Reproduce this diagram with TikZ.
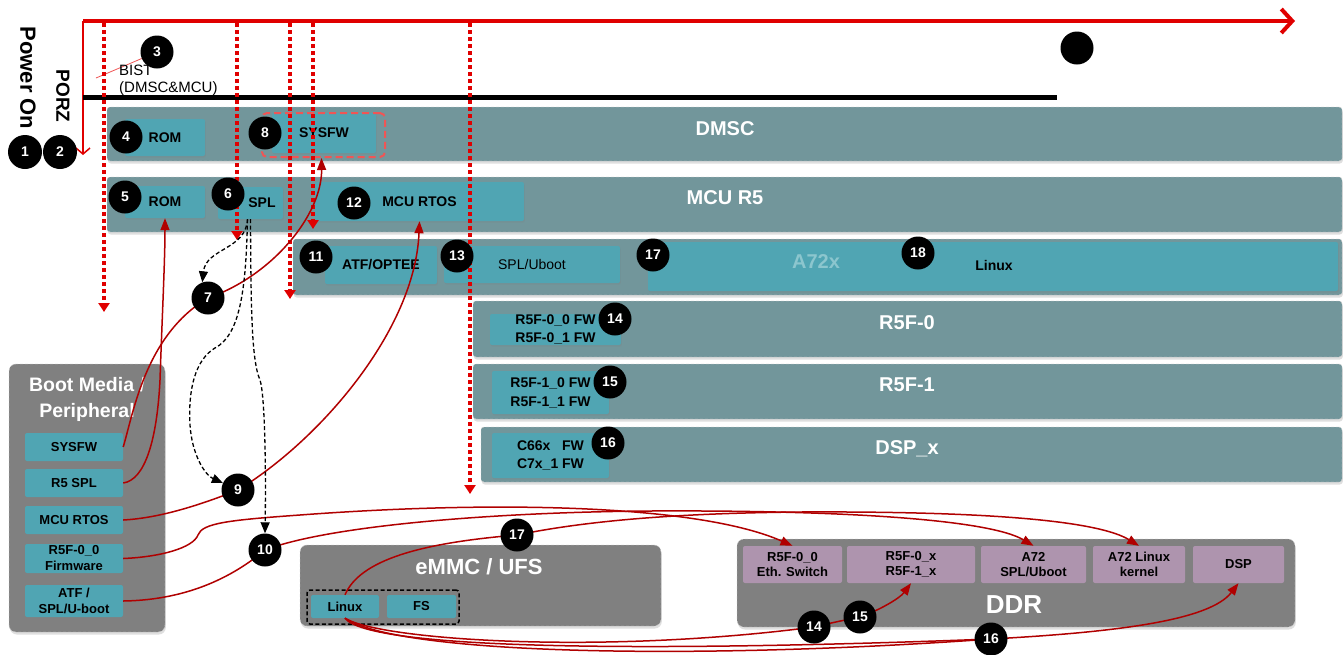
\documentclass[tikz,border=0pt]{standalone}
\usepackage{fontspec}
\setmainfont{Liberation Sans}
\usetikzlibrary{arrows.meta,fit,shadows}
\definecolor{panelc}{RGB}{114,150,155}
\definecolor{tealc}{RGB}{80,165,179}
\definecolor{greyc}{RGB}{128,128,128}
\definecolor{pinkc}{RGB}{174,148,174}
\definecolor{tred}{RGB}{224,0,0}
\definecolor{dred}{RGB}{176,0,0}
\definecolor{a72c}{RGB}{140,198,206}
\definecolor{sysred}{RGB}{240,85,85}
\pgfdeclarelayer{back}
\pgfdeclarelayer{mid}
\pgfsetlayers{back,mid,main}
\begin{document}
\begin{tikzpicture}[x=1pt,y=-1pt,
  panel/.style={fill=panelc, draw=gray!40, densely dashed, line width=0.4pt, rounded corners=3pt, inner sep=0pt,
    drop shadow={shadow xshift=0.8pt, shadow yshift=-2.5pt, opacity=0.25}},
  gpanel/.style={panel, fill=greyc, rounded corners=7pt},
  ibox/.style={fill=tealc, rounded corners=2pt, inner sep=0pt, align=center, font=\bfseries\fontsize{14}{17}\selectfont,
    drop shadow={shadow xshift=0.8pt, shadow yshift=-1.5pt, opacity=0.25}},
  sbox/.style={ibox, font=\bfseries\fontsize{13}{16}\selectfont},
  pbox/.style={sbox, fill=pinkc, font=\bfseries\fontsize{13}{15}\selectfont},
  sz/.style 2 args={minimum width=#1, minimum height=#2},
  plabel/.style={text=white, font=\bfseries\fontsize{20}{24}\selectfont, inner sep=1pt},
  num/.style={circle, fill=black, text=white, font=\bfseries\fontsize{14}{14}\selectfont, minimum size=33pt, inner sep=0pt},
  tdot/.style={tred, line width=3.5pt, dash pattern=on 3.5pt off 3.5pt, -{Triangle[length=9pt,width=11pt]}},
  conn/.style={dred, line width=1.5pt, -{Triangle[length=12pt,width=9pt]}},
  wire/.style={dred, line width=1.5pt},
  dconn/.style={black, line width=1.3pt, dash pattern=on 4pt off 2.5pt, -{Triangle[length=11pt,width=9pt]}}
]
\useasboundingbox (0,0) rectangle (1344,654);

\begin{pgfonlayer}{back}
\fill[white] (0,0) rectangle (1344,654);
% timeline
\coordinate (t0) at (83,21);
\coordinate (t1) at (1295,21);
\coordinate (tv) at (83,155);
\draw[tred, line width=4pt, -{Straight Barb[length=11pt,width=24pt]}] (t0) -- (t1);
\draw[tred, line width=1.5pt, -{Straight Barb[length=6pt,width=14pt]}] (t0) -- (tv);
\coordinate (p0) at (83,97.5);
\coordinate (p1) at (1057,97.5);
\draw[black, line width=5pt] (p0) -- (p1);

% panels
\node[panel, fit={(107,107) (1342,161)}] (dmsc) {};
\node[panel, fit={(107,177) (1342,232)}] (mcur5) {};
\node[panel, fit={(293,239) (1342,295)}] (a72p) {};
\node[panel, fit={(473,301) (1342,357)}] (r5f0p) {};
\node[panel, fit={(473,364) (1342,419)}] (r5f1p) {};
\node[panel, fit={(481,427) (1342,482)}] (dspp) {};
\node[gpanel, fit={(9,364) (165,632)}] (boot) {};
\node[gpanel, fit={(300,545) (661,626)}] (emmc) {};
\node[gpanel, fit={(737,539) (1295,627)}] (ddr) {};

% DMSC boxes
\node[ibox, sz={80pt}{37pt}] (drom) at (165,137.5) {ROM};
\node[ibox, sz={104pt}{40pt}] (sysfw) at (324,133) {SYSFW};
\node[draw=sysred, dash pattern=on 7pt off 4pt, line width=2pt, rounded corners=5pt, inner sep=0pt, fit={(262,113) (385,157)}] (sysfwd) {};
% MCU R5 boxes
\node[ibox, sz={80pt}{32pt}] (mrom) at (165,202) {ROM};
\node[ibox, sz={65pt}{32pt}] (spl) at (250.5,203) {};
\node[font=\bfseries\fontsize{14}{17}\selectfont] (spltxt) at (262,203) {SPL};
\node[ibox, sz={209pt}{39pt}] (mrtos) at (419.5,201.5) {MCU RTOS};
% A72 boxes
\node[ibox, sz={112pt}{38pt}] (atf) at (381,265) {ATF/OPTEE};
\node[ibox, sz={176pt}{37pt}, font=\fontsize{14}{17}\selectfont] (aspl) at (532,264.5) {SPL/Uboot};
\node[ibox, fit={(648,242) (1338,291)}] (linuxa) {};
\node[text=a72c, font=\bfseries\fontsize{20}{24}\selectfont] (a72lbl) at (816,262) {A72x};
\node[font=\bfseries\fontsize{14}{17}\selectfont] (linlbl) at (994,265) {Linux};
% R5F / DSP boxes
\node[ibox, sz={131pt}{31pt}, font=\bfseries\fontsize{14}{18}\selectfont] (r50fw) at (555.5,329.5) {R5F-0\_0 FW\\R5F-0\_1 FW};
\node[ibox, sz={117pt}{43pt}, font=\bfseries\fontsize{14}{19}\selectfont] (r51fw) at (550.5,392.5) {R5F-1\_0 FW\\R5F-1\_1 FW};
\node[ibox, sz={117pt}{45pt}, font=\bfseries\fontsize{14}{18}\selectfont] (dspfw) at (550.5,455.5) {C66x\hspace{0.834em}FW\\C7x\_1 FW};

% panel labels
\node[plabel] (dmsclbl) at (725,129) {DMSC};
\node[plabel] (mculbl) at (725,198) {MCU R5};
\node[plabel] (r50lbl) at (907,323) {R5F-0};
\node[plabel] (r51lbl) at (907,385) {R5F-1};
\node[plabel] (dsplbl) at (907,449) {DSP\_x};

% Boot media
\node[plabel, align=center, font=\bfseries\fontsize{19.5}{26}\selectfont] (bootlbl) at (87,399) {Boot Media /\\Peripheral};
\node[sbox, sz={98pt}{28pt}] (bsysfw) at (74,447) {SYSFW};
\node[sbox, sz={98pt}{28pt}] (bspl) at (74,483) {R5 SPL};
\node[sbox, sz={98pt}{28pt}] (brtos) at (74,520) {MCU RTOS};
\node[sbox, sz={98pt}{29pt}] (bfw) at (74,558.5) {R5F-0\_0\\Firmware};
\node[sbox, sz={98pt}{32pt}] (batf) at (74,601) {ATF /\\SPL/U-boot};

% eMMC
\node[plabel, font=\bfseries\fontsize{22}{26}\selectfont] (emmclbl) at (479,567) {eMMC / UFS};
\node[sbox, sz={68pt}{23pt}] (linux) at (345,606.5) {Linux};
\node[sbox, sz={69pt}{23pt}] (fs) at (421.5,606.5) {FS};
\node[draw=black, dash pattern=on 4pt off 2.5pt, line width=1.5pt, rounded corners=3pt, inner sep=0pt, fit={(307,590) (459,624)}] (emmcd) {};

% DDR
\node[plabel, font=\bfseries\fontsize{26}{30}\selectfont] (ddrlbl) at (1014,605) {DDR};
\node[pbox, sz={99pt}{37pt}] (eth) at (792.5,564.5) {R5F-0\_0\\Eth. Switch};
\node[pbox, sz={128pt}{37pt}] (r5fx) at (911,564.5) {R5F-0\_x\\R5F-1\_x};
\node[pbox, sz={105pt}{37pt}] (a72spl) at (1033.5,564.5) {A72\\SPL/Uboot};
\node[pbox, sz={92pt}{37pt}] (a72lin) at (1139,564.5) {A72 Linux\\kernel};
\node[pbox, sz={91pt}{37pt}] (dsp) at (1238.5,564.5) {DSP};
\end{pgfonlayer}

% texts
\node[rotate=-90, font=\bfseries\fontsize{22}{22}\selectfont] (pon) at (28,78) {Power On};
\node[rotate=-90, font=\bfseries\fontsize{19}{19}\selectfont] (porz) at (63,96) {PORZ};
\node[anchor=west, align=left, inner sep=0pt, font=\fontsize{15}{17}\selectfont] (bist) at (119,80) {BIST\\(DMSC\&MCU)};

% numbered circles
\node[num, minimum size=34pt] (n1) at (25,152) {1};
\node[num, minimum size=34pt] (n2) at (60,152) {2};
\node[num] (n3) at (157,52) {3};
\node[num] (n4) at (126,137) {4};
\node[num] (n5) at (125,197) {5};
\node[num] (n6) at (228,194) {6};
\node[num] (n7) at (208,298) {7};
\node[num] (n8) at (265,133) {8};
\node[num] (n9) at (238,490) {9};
\node[num] (n10) at (265,550) {10};
\node[num] (n11) at (316,257) {11};
\node[num] (n12) at (354,203) {12};
\node[num] (n13) at (457,256) {13};
\node[num] (n14a) at (615,319) {14};
\node[num] (n15a) at (610,382) {15};
\node[num] (n16a) at (608,443) {16};
\node[num] (n17a) at (653,255) {17};
\node[num] (n18) at (918,253) {18};
\node[num] (n17b) at (517,535) {17};
\node[num] (n14b) at (814,627) {14};
\node[num] (n15b) at (860,617) {15};
\node[num] (n16b) at (991,639) {16};
\node[circle, fill=black, minimum size=33pt, inner sep=0pt] (dot) at (1077,48) {};

\begin{pgfonlayer}{mid}
% BIST pointer
\coordinate (b3) at (96,78);
\draw[sysred, line width=0.8pt] (b3) -- (n3);
% dotted timeline markers
\coordinate (d1s) at (104,23); \coordinate (d1e) at (104,312);
\coordinate (d2s) at (237,23); \coordinate (d2e) at (237,240);
\coordinate (d3s) at (290,23); \coordinate (d3e) at (290,299);
\coordinate (d4s) at (313,23); \coordinate (d4e) at (313,229);
\coordinate (d5s) at (470,23); \coordinate (d5e) at (470,494);
\draw[tdot] (d1s) -- (d1e);
\draw[tdot] (d2s) -- (d2e);
\draw[tdot] (d3s) -- (d3e);
\draw[tdot] (d4s) -- (d4e);
\draw[tdot] (d5s) -- (d5e);

% red load connectors
\draw[conn] (bsysfw.east) .. controls (133,415) and (145,335) .. (n7.center)
  .. controls (272,276) and (322,215) .. ([xshift=-2pt]sysfwd.south);
\draw[conn] (bspl.east) .. controls (145,480) and (157,440) .. (160,380)
  .. controls (162,320) and (165,260) .. (mrom.south);
\draw[conn] (brtos.east) .. controls (160,518) and (200,505) .. (n9.center)
  .. controls (320,440) and (415,330) .. (mrtos.south);
\draw[conn] (bfw.east) .. controls (160,557) and (193,548) .. (198,535)
  .. controls (202,523) and (230,520) .. (300,515)
  .. controls (500,500) and (700,505) .. (eth.north);
\draw[conn] (batf.east) .. controls (190,600) and (235,575) .. (n10.center)
  .. controls (330,525) and (500,512) .. (650,511)
  .. controls (850,510) and (990,520) .. (a72spl.north);
\draw[conn] (linux.north) .. controls (360,560) and (420,543) .. (n17b.center)
  .. controls (600,518) and (700,513) .. (800,512)
  .. controls (1000,511) and (1100,522) .. (a72lin.north);
\draw[conn] (linux.south) .. controls (380,640) and (600,655) .. (n14b.center)
  .. controls (835,622) and (845,620) .. (n15b.center)
  .. controls (880,610) and (900,598) .. (r5fx.south);
\draw[conn] (linux.south) .. controls (400,655) and (700,660) .. (n16b.center)
  .. controls (1120,632) and (1210,620) .. (dsp.south);
\draw[wire] (linux.south) .. controls (370,650) and (650,652) .. (n16b.center);

% dashed SPL flow
\draw[dconn] ([xshift=-3pt]spl.south) .. controls (246,250) and (206,248) .. (n7.110);
\draw[dconn] ([xshift=-3pt]spl.south) .. controls (246,290) and (240,335) .. (215,348)
  .. controls (195,360) and (188,390) .. (190,425)
  .. controls (192,455) and (205,475) .. (n9.155);
\draw[dconn] (spl.south) .. controls (251,300) and (251,360) .. (260,380)
  .. controls (265,395) and (266,470) .. (n10.north);
\end{pgfonlayer}
\end{tikzpicture}
\end{document}
